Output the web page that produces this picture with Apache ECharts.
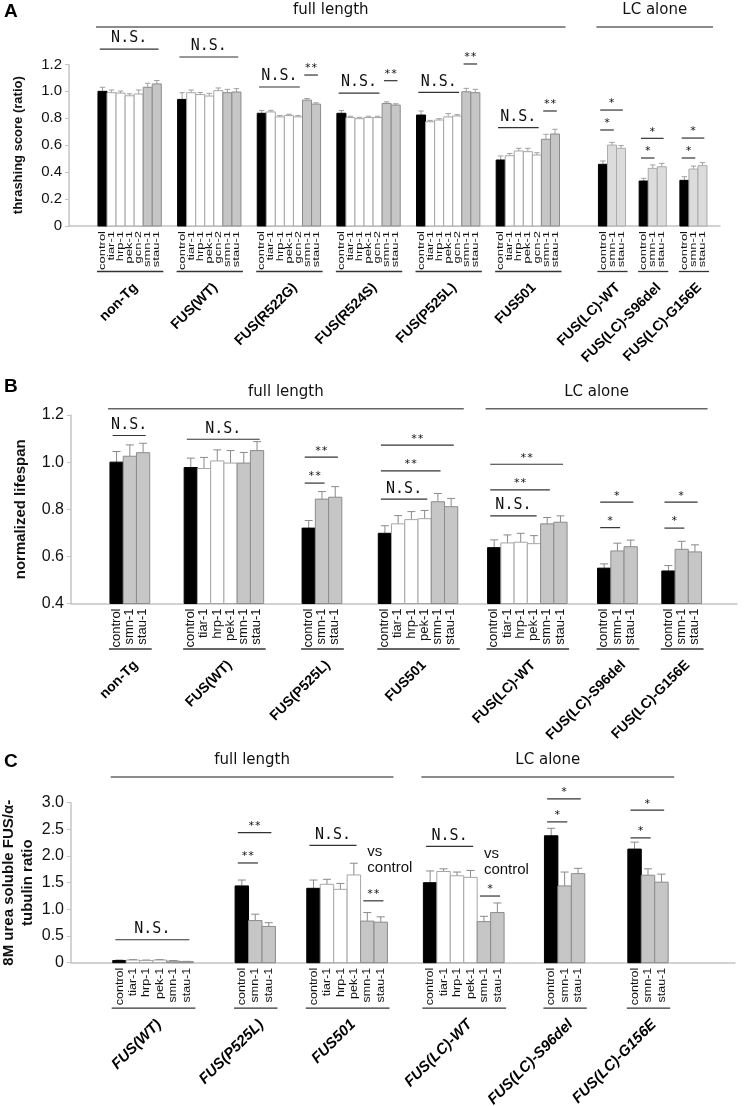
<!DOCTYPE html>
<html><head><meta charset="utf-8">
<script src="https://cdn.jsdelivr.net/npm/echarts@6/dist/echarts.min.js"></script>
<style>html,body{margin:0;padding:0;background:#fff}#c{width:747px;height:1106px}</style>
</head><body><div id="c"></div>
<script>
// ================= DATA =================
const fullBarsA = ['control','tiar-1','hrp-1','pek-1','gcn-2','smn-1','stau-1'];
const fullBarsBC = ['control','tiar-1','hrp-1','pek-1','smn-1','stau-1'];
const lcBars = ['control','smn-1','stau-1'];

// Panel A: thrashing score
const groupsA = ['non-Tg','FUS(WT)','FUS(R522G)','FUS(R524S)','FUS(P525L)','FUS501','FUS(LC)-WT','FUS(LC)-S96del','FUS(LC)-G156E'];
const barNamesA = [fullBarsA, fullBarsA, fullBarsA, fullBarsA, fullBarsA, fullBarsA, lcBars, lcBars, lcBars];
const valuesA = [
  [1.00, 0.99, 0.987, 0.967, 0.98, 1.03, 1.055],
  [0.94, 0.99, 0.976, 0.965, 1.005, 0.99, 0.995],
  [0.837, 0.847, 0.81, 0.82, 0.81, 0.935, 0.905],
  [0.837, 0.805, 0.797, 0.805, 0.805, 0.91, 0.898],
  [0.824, 0.774, 0.787, 0.81, 0.817, 0.997, 0.99],
  [0.49, 0.522, 0.557, 0.552, 0.527, 0.644, 0.683],
  [0.458, 0.601, 0.577],
  [0.334, 0.428, 0.44],
  [0.339, 0.423, 0.448]
];
const errorsA = [
  [0.03, 0.02, 0.015, 0.015, 0.03, 0.03, 0.025],
  [0.05, 0.02, 0.015, 0.02, 0.02, 0.025, 0.025],
  [0.02, 0.012, 0.01, 0.01, 0.01, 0.012, 0.01],
  [0.02, 0.01, 0.01, 0.01, 0.01, 0.012, 0.01],
  [0.03, 0.01, 0.01, 0.025, 0.01, 0.025, 0.025],
  [0.03, 0.017, 0.02, 0.025, 0.017, 0.037, 0.035],
  [0.025, 0.02, 0.02],
  [0.02, 0.025, 0.025],
  [0.027, 0.022, 0.022]
];
// [group, fromBar, toBar, height, text]
const annotsA = [
  [0,0,6,1.314,'N.S.'], [1,0,6,1.255,'N.S.'],
  [2,0,4,1.032,'N.S.'], [2,5,6,1.121,'**'],
  [3,0,4,0.987,'N.S.'], [3,5,6,1.079,'**'],
  [4,0,4,0.993,'N.S.'], [4,5,6,1.203,'**'],
  [5,0,4,0.73,'N.S.'], [5,5,6,0.854,'**'],
  [6,0,2,0.861,'*'], [6,0,1,0.713,'*'],
  [7,0,2,0.651,'*'], [7,0,1,0.505,'*'],
  [8,0,2,0.653,'*'], [8,0,1,0.505,'*']
];
const headersA = [['full length',0,5,1.477], ['LC alone',6,8,1.477]];
const yNameA = 'thrashing score (ratio)';

// Panel B: normalized lifespan
const groupsB = ['non-Tg','FUS(WT)','FUS(P525L)','FUS501','FUS(LC)-WT','FUS(LC)-S96del','FUS(LC)-G156E'];
const barNamesB = [lcBars, fullBarsBC, lcBars, fullBarsBC, fullBarsBC, lcBars, lcBars];
const valuesB = [
  [1.00, 1.025, 1.04],
  [0.977, 0.973, 1.005, 0.996, 0.996, 1.049],
  [0.72, 0.843, 0.851],
  [0.698, 0.738, 0.756, 0.76, 0.832, 0.811],
  [0.637, 0.657, 0.66, 0.654, 0.738, 0.745],
  [0.55, 0.623, 0.641],
  [0.538, 0.63, 0.619]
];
const errorsB = [
  [0.045, 0.048, 0.04],
  [0.04, 0.047, 0.047, 0.053, 0.045, 0.038],
  [0.032, 0.032, 0.045],
  [0.032, 0.035, 0.034, 0.035, 0.035, 0.035],
  [0.033, 0.034, 0.038, 0.034, 0.027, 0.027],
  [0.018, 0.033, 0.028],
  [0.023, 0.034, 0.03]
];
const annotsB = [
  [0,0,2,1.113,'N.S.'], [1,0,5,1.097,'N.S.'],
  [2,0,1,0.911,'**'], [2,0,2,1.021,'**'],
  [3,0,3,0.843,'N.S.'], [3,0,4,0.963,'**'], [3,0,5,1.072,'**'],
  [4,0,3,0.772,'N.S.'], [4,0,4,0.882,'**'], [4,0,5,0.991,'**'],
  [5,0,1,0.722,'*'], [5,0,2,0.83,'*'],
  [6,0,1,0.72,'*'], [6,0,2,0.83,'*']
];
const headersB = [['full length',0,3,1.226], ['LC alone',4,6,1.226]];
const yNameB = 'normalized lifespan';

// Panel C: 8M urea soluble FUS / alpha-tubulin
const groupsC = ['FUS(WT)','FUS(P525L)','FUS501','FUS(LC)-WT','FUS(LC)-S96del','FUS(LC)-G156E'];
const barNamesC = [fullBarsBC, lcBars, fullBarsBC, fullBarsBC, lcBars, lcBars];
const valuesC = [
  [0.04, 0.05, 0.04, 0.05, 0.03, 0.02],
  [1.44, 0.79, 0.68],
  [1.395, 1.47, 1.376, 1.645, 0.78, 0.76],
  [1.5, 1.71, 1.63, 1.6, 0.77, 0.94],
  [2.38, 1.44, 1.67],
  [2.13, 1.64, 1.51]
];
const errorsC = [
  [0.01, 0.01, 0.01, 0.01, 0.01, 0.005],
  [0.11, 0.12, 0.07],
  [0.155, 0.094, 0.11, 0.22, 0.16, 0.1],
  [0.22, 0.05, 0.07, 0.13, 0.1, 0.18],
  [0.14, 0.26, 0.1],
  [0.13, 0.12, 0.15]
];
const annotsC = [
  [0,0,5,0.43,'N.S.'],
  [1,0,1,1.87,'**'], [1,0,2,2.44,'**'],
  [2,0,3,2.2,'N.S.'], [2,4,5,1.16,'**'],
  [3,0,3,2.18,'N.S.'], [3,4,5,1.25,'*'],
  [4,0,2,3.07,'*'], [4,0,1,2.64,'*'],
  [5,0,2,2.86,'*'], [5,0,1,2.34,'*']
];
// [group, bar, height, text]
const notesC = [[2,4,1.62,'vs\ncontrol'], [3,4,1.6,'vs\ncontrol']];
const headersC = [['full length',0,2,3.48], ['LC alone',3,5,3.48]];
const yNameC = '8M urea soluble FUS/α-\ntubulin ratio';

// ================= LAYOUT / STYLE =================
const LAYOUT = {
  A: {left:69, right:720, top:64.4, bottom:226, ymin:0, ymax:1.2, step:0.2, bw:9.05, start:3.2,
      gaps:[1.8,1.8,1.8,1.8,1.8,4.3,1.5,1.5], tickFont:15, nameFont:13, nameGap:42, nameMove:true, labelFont:13, labelScale:0.74,
      groupFont:'bold 14px "Liberation Sans"', lightFrom:6, err:'#a0a0a0', letter:'A', letterTop:2},
  B: {left:71, right:737, top:415, bottom:603.5, ymin:0.4, ymax:1.2, step:0.2, bw:13.25, start:2.94,
      gaps:[2.6,2.9,2.75,2.25,2.3,1.85], tickFont:16, nameFont:15, nameGap:41, nameMove:true, labelFont:13, labelScale:0.92,
      groupFont:'bold 14px "Liberation Sans"', lightFrom:99, err:'#8a8a8a', letter:'B', letterTop:377},
  C: {left:71, right:735, top:802.7, bottom:962.7, ymin:0, ymax:3, step:0.5, bw:13.45, start:3.1,
      gaps:[3.1,2.33,2.67,3.0,3.2], tickFont:16, nameFont:15, nameGap:34, nameMove:false, labelFont:12.5, labelScale:0.92,
      groupFont:'italic bold 15px "Liberation Sans"', lightFrom:99, err:'#8a8a8a', letter:'C', letterTop:752}
};
const FONT = '"Liberation Sans", Arial, sans-serif';

const panels = [
  {cfg:LAYOUT.A, groups:groupsA, names:barNamesA, values:valuesA, errors:errorsA, annots:annotsA, notes:[], headers:headersA, yName:yNameA},
  {cfg:LAYOUT.B, groups:groupsB, names:barNamesB, values:valuesB, errors:errorsB, annots:annotsB, notes:[], headers:headersB, yName:yNameB},
  {cfg:LAYOUT.C, groups:groupsC, names:barNamesC, values:valuesC, errors:errorsC, annots:annotsC, notes:notesC, headers:headersC, yName:yNameC}
];

function barStyle(name, gi, cfg) {
  if (name === 'control') return {fill:'#000', stroke:'#000'};
  if (name === 'smn-1' || name === 'stau-1') {
    return gi >= cfg.lightFrom ? {fill:'#dcdcdc', stroke:'#ababab'} : {fill:'#c6c6c6', stroke:'#8c8c8c'};
  }
  return {fill:'#fff', stroke:'#a6a6a6'};
}

const grids = [], xAxes = [], yAxes = [], series = [], graphics = [];

panels.forEach((P, pi) => {
  const cfg = P.cfg;
  let x = cfg.start;
  const gpos = P.groups.map((g, gi) => {
    if (gi > 0) x += cfg.gaps[gi - 1];
    const s = x; x += P.names[gi].length;
    return {start:s, n:P.names[gi].length, name:g};
  });
  const bars = [];
  P.groups.forEach((g, gi) => P.names[gi].forEach((nm, bi) => {
    bars.push({x:gpos[gi].start + bi, v:P.values[gi][bi], e:P.errors[gi][bi], name:nm, gi:gi});
  }));

  grids.push({left:cfg.left, top:cfg.top, width:cfg.right - cfg.left, height:cfg.bottom - cfg.top,
    containLabel:false, outerBoundsMode:'none'});
  xAxes.push({gridIndex:pi, type:'value', min:0, max:(cfg.right - cfg.left) / cfg.bw,
    axisLine:{show:true, onZero:false, lineStyle:{color:'#c4c4c4', width:1.5}},
    axisTick:{show:false}, axisLabel:{show:false}, splitLine:{show:false}});
  yAxes.push({gridIndex:pi, type:'value', min:cfg.ymin, max:cfg.ymax, interval:cfg.step,
    axisLine:{show:true, onZero:false, lineStyle:{color:'#c4c4c4', width:1.5}},
    axisTick:{show:true, length:4, lineStyle:{color:'#c4c4c4'}},
    axisLabel:{fontFamily:FONT, fontSize:cfg.tickFont, color:'#111', margin:7,
      formatter:v => (Math.abs(v) < 1e-9 ? '0' : v.toFixed(1))},
    splitLine:{show:false},
    name:P.yName, nameLocation:'middle', nameRotate:90, nameGap:cfg.nameGap, nameMoveOverlap:cfg.nameMove,
    nameTextStyle:{fontFamily:FONT, fontWeight:'bold', fontSize:cfg.nameFont, color:'#111', lineHeight:cfg.nameFont + 4}});

  const common = {type:'custom', xAxisIndex:pi, yAxisIndex:pi, clip:false, silent:true, animation:false};

  series.push(Object.assign({}, common, {
    data:bars.map(b => [b.x, b.v, b.e]),
    renderItem:(params, api) => {
      const b = bars[params.dataIndex];
      const bl = api.coord([b.x, cfg.ymin]);
      const tr = api.coord([b.x + 1, b.v]);
      const et = api.coord([b.x + 0.5, b.v + b.e]);
      const cx = (bl[0] + tr[0]) / 2, cap = (tr[0] - bl[0]) * 0.3;
      const st = barStyle(b.name, b.gi, cfg);
      return {type:'group', children:[
        {type:'line', shape:{x1:cx, y1:tr[1], x2:cx, y2:et[1]}, style:{stroke:cfg.err, lineWidth:1}},
        {type:'line', shape:{x1:cx - cap, y1:et[1], x2:cx + cap, y2:et[1]}, style:{stroke:cfg.err, lineWidth:1}},
        {type:'rect', shape:{x:bl[0], y:tr[1], width:tr[0] - bl[0], height:bl[1] - tr[1]},
         style:{fill:st.fill, stroke:st.stroke, lineWidth:1}}
      ]};
    }
  }));

  series.push(Object.assign({}, common, {
    data:bars.map(b => [b.x + 0.5, cfg.ymin]),
    renderItem:(params, api) => {
      const b = bars[params.dataIndex];
      const p = api.coord([b.x + 0.5, cfg.ymin]);
      return {type:'text', x:p[0], y:p[1] + 5, rotation:Math.PI / 2, scaleY:cfg.labelScale,
        style:{text:b.name, font:cfg.labelFont + 'px ' + FONT, fill:'#111', align:'right', verticalAlign:'middle'}};
    }
  }));

  series.push(Object.assign({}, common, {
    data:gpos.map(g => [g.start + g.n / 2, cfg.ymin]),
    renderItem:(params, api) => {
      const g = gpos[params.dataIndex];
      const l = api.coord([g.start, cfg.ymin]), r = api.coord([g.start + g.n, cfg.ymin]);
      const yl = l[1] + 45.5;
      return {type:'group', children:[
        {type:'line', shape:{x1:l[0] - 1, y1:yl, x2:r[0] + 2, y2:yl}, style:{stroke:'#333', lineWidth:1.3}},
        {type:'text', x:(l[0] + r[0]) / 2 + 6, y:yl + 14, rotation:Math.PI / 4,
         style:{text:g.name, font:cfg.groupFont, fill:'#000', align:'right', verticalAlign:'middle'}}
      ]};
    }
  }));

  series.push(Object.assign({}, common, {
    data:P.annots.map(a => [gpos[a[0]].start + (a[1] + a[2] + 1) / 2, a[3]]),
    renderItem:(params, api) => {
      const a = P.annots[params.dataIndex];
      const g = gpos[a[0]];
      const p1 = api.coord([g.start + a[1] + 0.2, a[3]]);
      const p2 = api.coord([g.start + a[2] + 0.7, a[3]]);
      const isNS = a[4] === 'N.S.';
      return {type:'group', children:[
        {type:'line', shape:{x1:p1[0], y1:p1[1], x2:p2[0], y2:p2[1]}, style:{stroke:'#333', lineWidth:1.2}},
        {type:'text', x:(p1[0] + p2[0]) / 2, y:p1[1] - (isNS ? 3 : 1),
         style:{text:a[4], font:(isNS ? '15px' : '11px') + ' "DejaVu Sans Mono", monospace', fill:'#111',
                align:'center', verticalAlign:'bottom'}}
      ]};
    }
  }));

  if (P.notes.length) {
    series.push(Object.assign({}, common, {
      data:P.notes.map(n => [gpos[n[0]].start + n[1], n[2]]),
      renderItem:(params, api) => {
        const n = P.notes[params.dataIndex];
        const p = api.coord([gpos[n[0]].start + n[1] + 0.5, n[2]]);
        return {type:'text', x:p[0], y:p[1],
          style:{text:n[3], font:'15px ' + FONT, fill:'#111', align:'left', verticalAlign:'bottom', lineHeight:16}};
      }
    }));
  }

  series.push(Object.assign({}, common, {
    data:P.headers.map(h => [gpos[h[1]].start, h[3]]),
    renderItem:(params, api) => {
      const h = P.headers[params.dataIndex];
      const g0 = gpos[h[1]], g1 = gpos[h[2]];
      const p1 = api.coord([g0.start, h[3]]), p2 = api.coord([g1.start + g1.n, h[3]]);
      const x1 = p1[0] - 2, x2 = p2[0] + 6;
      return {type:'group', children:[
        {type:'line', shape:{x1:x1, y1:p1[1], x2:x2, y2:p1[1]}, style:{stroke:'#666', lineWidth:1.5}},
        {type:'text', x:(x1 + x2) / 2, y:p1[1] - 17,
         style:{text:h[0], font:'15px "DejaVu Sans", sans-serif', fill:'#111', align:'center', verticalAlign:'middle'}}
      ]};
    }
  }));

  graphics.push({type:'text', left:4, top:cfg.letterTop,
    style:{text:cfg.letter, font:'bold 19px ' + FONT, fill:'#000'}});
});

const chart = echarts.init(document.getElementById('c'), null, {renderer:'canvas', width:747, height:1106});
chart.setOption({
  animation:false,
  backgroundColor:'#fff',
  grid:grids, xAxis:xAxes, yAxis:yAxes, series:series, graphic:graphics
});
</script>
</body></html>
